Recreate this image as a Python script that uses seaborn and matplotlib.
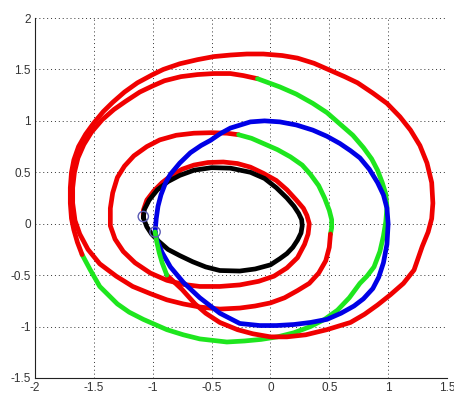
import matplotlib
matplotlib.use("Agg")
import matplotlib.pyplot as plt
import seaborn as sns

# Initial orbit (black)
black_x = [-1.08, -1.07, -1.03, -0.96, -0.87, -0.77, -0.65, -0.50, -0.34, -0.17, -0.05, 0.05, 0.14, 0.20, 0.24,
           0.265, 0.27, 0.26, 0.23, 0.19, 0.14, 0.08, 0.00, -0.13, -0.26, -0.43, -0.55, -0.66, -0.77, -0.87,
           -0.95, -1.01, -1.05, -1.08]
black_y = [0.06, 0.14, 0.23, 0.33, 0.41, 0.47, 0.52, 0.545, 0.54, 0.50, 0.44, 0.35, 0.25, 0.17, 0.10,
           0.04, -0.02, -0.09, -0.16, -0.23, -0.29, -0.34, -0.40, -0.44, -0.46, -0.455, -0.42, -0.37, -0.31, -0.25,
           -0.17, -0.10, -0.03, 0.06]

# Target orbit (blue)
blue_x = [-0.98, -0.97, -0.955, -0.93, -0.89, -0.85, -0.77, -0.68, -0.59, -0.51, -0.42, -0.34, -0.17, -0.05, 0.08,
          0.22, 0.36, 0.48, 0.59, 0.68, 0.76, 0.84, 0.91, 0.96, 0.99, 1.00, 0.99, 0.96, 0.92, 0.87, 0.79, 0.71,
          0.60, 0.48, 0.34, 0.20, 0.05, -0.09, -0.26, -0.43, -0.60, -0.74, -0.85, -0.92, -0.96, -0.98]
blue_y = [-0.08, 0.05, 0.17, 0.28, 0.40, 0.48, 0.59, 0.69, 0.76, 0.81, 0.88, 0.93, 0.99, 1.00, 0.99,
          0.96, 0.91, 0.85, 0.78, 0.71, 0.64, 0.53, 0.40, 0.28, 0.15, 0.00, -0.20, -0.38, -0.52, -0.63, -0.73, -0.80,
          -0.87, -0.93, -0.96, -0.98, -0.99, -0.99, -0.97, -0.87, -0.72, -0.57, -0.42, -0.28, -0.17, -0.08]

# Transfer trajectory: thrust arcs (red) and coast arcs (green), in flight order
burn1_x = [-1.08, -1.08, -1.05, -0.99, -0.92, -0.84, -0.75, -0.65, -0.53, -0.40, -0.28, -0.17, -0.06, 0.05, 0.14,
           0.22, 0.28, 0.31, 0.33, 0.32, 0.29, 0.23, 0.14, 0.03, -0.10, -0.26, -0.43, -0.60, -0.74, -0.88, -1.02,
           -1.15, -1.25, -1.32, -1.36, -1.36, -1.34, -1.30, -1.24, -1.16, -1.05, -0.94, -0.80, -0.65, -0.50, -0.37, -0.27]
burn1_y = [0.06, 0.13, 0.23, 0.32, 0.40, 0.47, 0.53, 0.57, 0.595, 0.60, 0.585, 0.55, 0.49, 0.42, 0.33,
           0.23, 0.15, 0.08, 0.00, -0.10, -0.20, -0.33, -0.43, -0.51, -0.56, -0.595, -0.61, -0.61, -0.59, -0.55, -0.48,
           -0.38, -0.27, -0.15, -0.02, 0.15, 0.30, 0.45, 0.56, 0.66, 0.75, 0.815, 0.86, 0.88, 0.885, 0.88, 0.865]

coast1_x = [-0.27, -0.16, -0.06, 0.06, 0.17, 0.27, 0.34, 0.41, 0.46, 0.50, 0.52, 0.52, 0.51]
coast1_y = [0.865, 0.83, 0.78, 0.72, 0.65, 0.57, 0.48, 0.37, 0.25, 0.13, 0.04, -0.04, -0.10]

burn2_x = [0.51, 0.50, 0.47, 0.41, 0.33, 0.23, 0.12, 0.00, -0.13, -0.26, -0.43, -0.60, -0.74, -0.88, -1.02,
           -1.17, -1.31, -1.45, -1.55, -1.62, -1.66, -1.68, -1.68, -1.665, -1.635, -1.585, -1.52, -1.43, -1.33,
           -1.23, -1.11, -1.00, -0.90, -0.76, -0.62, -0.48, -0.34, -0.23, -0.11]
burn2_y = [-0.10, -0.23, -0.36, -0.48, -0.58, -0.65, -0.72, -0.77, -0.80, -0.82, -0.83, -0.81, -0.78, -0.74, -0.68,
           -0.61, -0.51, -0.39, -0.25, -0.10, 0.03, 0.20, 0.35, 0.50, 0.64, 0.77, 0.89, 1.01, 1.11,
           1.19, 1.28, 1.34, 1.39, 1.43, 1.45, 1.46, 1.46, 1.44, 1.41]

coast2_x = [-0.11, 0.08, 0.22, 0.36, 0.48, 0.59, 0.70, 0.79, 0.86, 0.91, 0.95, 0.98, 0.99, 0.98, 0.96, 0.93,
            0.88, 0.82, 0.76, 0.67, 0.57, 0.46, 0.34, 0.20, 0.06, -0.08, -0.22, -0.37, -0.60, -0.74, -0.88,
            -1.08, -1.20, -1.30, -1.45, -1.53, -1.60]
coast2_y = [1.41, 1.33, 1.26, 1.17, 1.08, 0.97, 0.86, 0.74, 0.63, 0.52, 0.40, 0.29, 0.16, 0.02, -0.12, -0.27,
            -0.42, -0.51, -0.58, -0.72, -0.84, -0.93, -1.00, -1.06, -1.10, -1.125, -1.14, -1.15, -1.12, -1.08, -1.03,
            -0.93, -0.86, -0.78, -0.61, -0.45, -0.30]

burn3_x = [-1.60, -1.64, -1.67, -1.69, -1.70, -1.70, -1.69, -1.67, -1.63, -1.57, -1.50, -1.42, -1.34, -1.24,
           -1.13, -1.00, -0.91, -0.77, -0.62, -0.48, -0.34, -0.20, -0.06, 0.10, 0.23, 0.37, 0.51, 0.63, 0.74,
           0.87, 0.99, 1.10, 1.19, 1.27, 1.33, 1.37, 1.38, 1.37, 1.34, 1.29, 1.22, 1.13, 1.02, 0.91, 0.80,
           0.68, 0.48, 0.30, 0.14, 0.00, -0.15, -0.28, -0.43, -0.55, -0.64, -0.75, -0.88]
burn3_y = [-0.30, -0.18, -0.06, 0.05, 0.20, 0.35, 0.50, 0.62, 0.75, 0.87, 0.98, 1.09, 1.18, 1.28,
           1.37, 1.45, 1.50, 1.555, 1.595, 1.625, 1.64, 1.65, 1.65, 1.635, 1.61, 1.56, 1.49, 1.43, 1.37,
           1.27, 1.17, 1.04, 0.91, 0.76, 0.59, 0.40, 0.20, 0.05, -0.08, -0.22, -0.45, -0.58, -0.69, -0.79, -0.88,
           -0.96, -1.03, -1.08, -1.10, -1.10, -1.07, -1.03, -0.96, -0.87, -0.78, -0.64, -0.50]

coast3_x = [-0.88, -0.92, -0.945, -0.965, -0.98]
coast3_y = [-0.50, -0.38, -0.28, -0.18, -0.08]

# Departure and arrival points
event_x = [-1.08, -0.98]
event_y = [0.07, -0.08]

x_ticks = [-2, -1.5, -1, -0.5, 0, 0.5, 1, 1.5]
x_labels = ["-2", "-1.5", "-1", "-0.5", "0", "0.5", "1", "1.5"]
y_ticks = [-1.5, -1, -0.5, 0, 0.5, 1, 1.5, 2]
y_labels = ["-1.5", "-1", "-0.5", "0", "0.5", "1", "1.5", "2"]

sns.set_style("white")
plt.rcParams["font.family"] = ["Liberation Sans", "DejaVu Sans"]

fig = plt.figure(figsize=(4.54, 3.93), dpi=100)
ax = fig.add_axes([35 / 454, 15 / 393, 412 / 454, 360 / 393])

RED = "#f00000"
GREEN = "#1ee61e"
BLUE = "#0000e6"
LW = 3.4

def trace(xs, ys, color, z):
    sns.lineplot(x=xs, y=ys, sort=False, estimator=None, color=color, linewidth=LW,
                 solid_capstyle="round", solid_joinstyle="round", ax=ax, zorder=z)

trace(burn1_x, burn1_y, RED, 3)
trace(coast1_x, coast1_y, GREEN, 3)
trace(burn2_x, burn2_y, RED, 3)
trace(coast2_x, coast2_y, GREEN, 3)
trace(burn3_x, burn3_y, RED, 3)
trace(black_x, black_y, "black", 4)
trace(blue_x, blue_y, BLUE, 5)
trace(coast3_x, coast3_y, GREEN, 6)

sns.scatterplot(x=event_x, y=event_y, marker="o", s=55, facecolor="none",
                edgecolor="#5a5ab4", linewidth=1.0, ax=ax, zorder=7)

ax.set_xlim(-2, 1.5)
ax.set_ylim(-1.5, 2)
ax.set_xticks(x_ticks)
ax.set_xticklabels(x_labels)
ax.set_yticks(y_ticks)
ax.set_yticklabels(y_labels)
ax.tick_params(direction="in", length=3.5, width=0.7, colors="#222222", labelsize=8.5,
               labelcolor="#333333", pad=3)

ax.grid(True, color="#333333", linestyle=(0, (1, 3)), linewidth=0.7)
for side in ["top", "right"]:
    ax.spines[side].set_visible(False)
for side in ["left", "bottom"]:
    ax.spines[side].set_color("#222222")
    ax.spines[side].set_linewidth(0.8)
ax.set_axisbelow(True)
ax.set_xlabel("")
ax.set_ylabel("")

fig.savefig("out.png", dpi=100, facecolor="white")
